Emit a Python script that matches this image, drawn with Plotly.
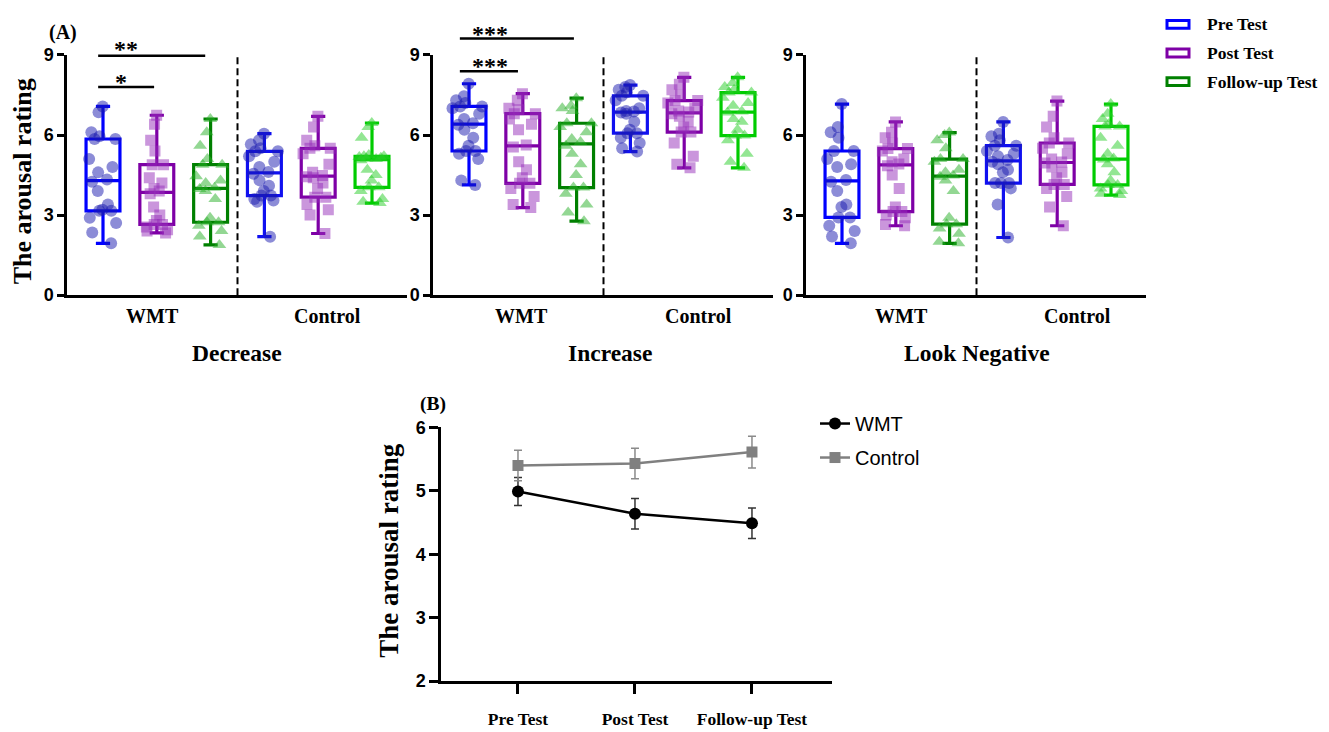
import plotly.graph_objects as go

# The page body has an 8px default margin; the figure is sized to fill the rest of the window.
PAGE_OFF = 8
W, H = 1329 - PAGE_OFF, 732 - PAGE_OFF

# ---------------- data ----------------
tests = ["Pre Test", "Post Test", "Follow-up Test"]
groups = ["WMT", "Control"]
conditions = ["Decrease", "Increase", "Look Negative"]

# Panel A: individual arousal ratings
dec_wmt_pre = [1.94, 2.35, 2.7, 2.9, 3.16, 3.16, 3.2, 3.4, 3.9, 4.25, 4.33, 4.6, 4.8, 5.1, 5.85, 5.85, 5.95, 6.1, 6.85, 7.07]
dec_wmt_post = [2.33, 2.4, 2.45, 2.55, 2.65, 2.65, 2.8, 3.0, 3.3, 3.8, 3.9, 4.0, 4.2, 4.4, 4.89, 4.89, 5.4, 5.8, 6.4, 6.74]
dec_wmt_fu = [1.88, 2.2, 2.4, 2.6, 2.73, 2.73, 2.9, 3.6, 3.9, 3.98, 4.02, 4.2, 4.3, 4.45, 4.89, 4.89, 5.1, 5.6, 6.1, 6.6]
dec_ctl_pre = [2.19, 3.5, 3.55, 3.6, 3.73, 3.73, 3.9, 4.1, 4.3, 4.55, 4.61, 4.8, 5.0, 5.2, 5.39, 5.39, 5.5, 5.65, 5.8, 6.05]
dec_ctl_post = [2.31, 3.0, 3.2, 3.4, 3.67, 3.67, 4.0, 4.2, 4.4, 4.44, 4.48, 4.6, 4.9, 5.3, 5.5, 5.5, 5.6, 5.8, 6.3, 6.7]
dec_ctl_fu = [3.45, 3.5, 3.6, 3.9, 4.04, 4.04, 4.3, 4.5, 4.7, 5.05, 5.1, 5.12, 5.15, 5.18, 5.2, 5.2, 5.25, 5.9, 6.3, 6.45]

inc_wmt_pre = [4.13, 4.3, 5.1, 5.3, 5.4, 5.4, 5.6, 5.9, 6.2, 6.38, 6.44, 6.6, 6.8, 7.0, 7.07, 7.07, 7.2, 7.3, 7.45, 7.92]
inc_wmt_post = [3.28, 3.4, 3.7, 4.0, 4.19, 4.19, 4.4, 4.7, 5.0, 5.55, 5.63, 6.2, 6.4, 6.6, 6.8, 6.8, 6.95, 7.0, 7.3, 7.55]
inc_wmt_fu = [2.77, 3.1, 3.4, 3.8, 4.03, 4.03, 4.5, 4.9, 5.3, 5.6, 5.74, 5.85, 6.1, 6.3, 6.44, 6.44, 6.9, 7.0, 7.1, 7.38]
inc_ctl_pre = [5.38, 5.5, 5.7, 5.9, 6.07, 6.07, 6.2, 6.5, 6.8, 6.84, 6.88, 6.9, 7.0, 7.3, 7.47, 7.47, 7.6, 7.7, 7.8, 7.87]
inc_ctl_post = [4.77, 4.9, 5.2, 5.7, 6.11, 6.11, 6.3, 6.5, 6.7, 6.8, 6.86, 6.9, 7.0, 7.2, 7.29, 7.29, 7.5, 7.7, 7.9, 8.16]
inc_ctl_fu = [4.77, 5.0, 5.3, 5.8, 5.98, 5.98, 6.2, 6.5, 6.6, 6.84, 6.88, 7.1, 7.2, 7.4, 7.59, 7.59, 7.7, 7.8, 7.95, 8.16]

neg_wmt_pre = [1.94, 2.2, 2.4, 2.6, 2.91, 2.91, 3.3, 3.4, 3.9, 4.25, 4.31, 4.8, 4.9, 5.1, 5.4, 5.4, 5.9, 6.1, 6.3, 7.16]
neg_wmt_post = [2.6, 2.65, 2.9, 3.0, 3.13, 3.13, 3.3, 4.0, 4.5, 4.85, 4.91, 5.0, 5.1, 5.4, 5.49, 5.49, 5.7, 5.9, 6.1, 6.49]
neg_wmt_fu = [1.94, 2.0, 2.3, 2.5, 2.66, 2.66, 2.9, 3.9, 4.3, 4.44, 4.48, 4.6, 4.7, 5.0, 5.1, 5.1, 5.5, 5.8, 6.0, 6.09]
neg_ctl_pre = [2.16, 3.4, 4.0, 4.2, 4.2, 4.2, 4.6, 4.7, 4.9, 5.0, 5.06, 5.2, 5.3, 5.4, 5.6, 5.6, 5.8, 5.95, 6.05, 6.49]
neg_ctl_post = [2.6, 3.3, 3.7, 4.0, 4.15, 4.15, 4.4, 4.6, 4.8, 4.95, 4.99, 5.1, 5.3, 5.5, 5.7, 5.7, 5.9, 6.3, 6.7, 7.27]
neg_ctl_fu = [3.75, 3.8, 3.9, 4.0, 4.13, 4.13, 4.3, 4.6, 4.9, 5.08, 5.12, 5.3, 5.6, 5.9, 6.32, 6.32, 6.4, 6.6, 6.8, 7.16]

# Panel B: mean +/- SEM
line_x = ["Pre Test", "Post Test", "Follow-up Test"]
wmt_mean = [4.99, 4.64, 4.49]
wmt_sem = [0.22, 0.24, 0.24]
ctl_mean = [5.40, 5.43, 5.61]
ctl_sem = [0.24, 0.24, 0.25]

# ---------------- styling ----------------
SERIF = "Liberation Serif"
SANS = "Liberation Sans"


def px(x):
    # window pixel -> paper fraction
    return (x - PAGE_OFF) / W


def py(y):
    return 1 - (y - PAGE_OFF) / H


panel_data = [
    [dec_wmt_pre, dec_wmt_post, dec_wmt_fu, dec_ctl_pre, dec_ctl_post, dec_ctl_fu],
    [inc_wmt_pre, inc_wmt_post, inc_wmt_fu, inc_ctl_pre, inc_ctl_post, inc_ctl_fu],
    [neg_wmt_pre, neg_wmt_post, neg_wmt_fu, neg_ctl_pre, neg_ctl_post, neg_ctl_fu],
]
box_line = ["#0000FF", "#7E00A6", "#008000", "#1010F0", "#7E00A6", "#00CC00"]
pt_color = ["rgba(25,25,175,0.5)", "rgba(150,45,185,0.5)", "rgba(40,175,40,0.5)",
            "rgba(25,25,175,0.5)", "rgba(150,45,185,0.5)", "rgba(40,205,40,0.5)"]
symbols = ["circle", "square", "triangle-up"] * 2
sizes = [12, 11, 12] * 2

A_X0 = [67, 433, 806]
A_W = 340
A_TOP, A_BOT = 46, 293
STEP = 53.8
XR = [-36 / STEP, (A_W - 36) / STEP]

fig = go.Figure()

for i, boxes in enumerate(panel_data):
    xa = "x" if i == 0 else f"x{i + 1}"
    ya = "y" if i == 0 else f"y{i + 1}"
    for k, vals in enumerate(boxes):
        fig.add_trace(go.Box(
            x=[k] * len(vals), y=vals, xaxis=xa, yaxis=ya,
            boxpoints="all", jitter=1.0, pointpos=0, width=0.63, whiskerwidth=0.42,
            line=dict(color=box_line[k], width=3.2), fillcolor="rgba(0,0,0,0)",
            marker=dict(color=pt_color[k], size=sizes[k], symbol=symbols[k]),
            showlegend=False, hoverinfo="y",
        ))

fig.add_trace(go.Scatter(
    x=line_x, y=wmt_mean, xaxis="x4", yaxis="y4", name="WMT", mode="lines+markers",
    line=dict(color="black", width=2.5), marker=dict(color="black", size=12, symbol="circle"),
    error_y=dict(type="data", array=wmt_sem, color="#333333", thickness=1.5, width=4),
    legendgroup="a",
))
fig.add_trace(go.Scatter(
    x=line_x, y=ctl_mean, xaxis="x4", yaxis="y4", name="Control", mode="lines+markers",
    line=dict(color="#808080", width=2.5), marker=dict(color="#808080", size=11, symbol="square"),
    error_y=dict(type="data", array=ctl_sem, color="#8a8a8a", thickness=1.5, width=4),
    legendgroup="b",
))

layout = dict(
    width=W, height=H, margin=dict(l=0, r=0, t=0, b=0),
    paper_bgcolor="white", plot_bgcolor="white",
    showlegend=True,
    legend=dict(x=px(815), y=py(405), xanchor="left", yanchor="top",
                font=dict(family=SANS, size=20, color="black"), tracegroupgap=5,
                bgcolor="rgba(0,0,0,0)", itemwidth=30),
)

axis_common = dict(showline=True, linecolor="black", linewidth=2.5, showgrid=False,
                   zeroline=False, mirror=False)
for i, x0 in enumerate(A_X0):
    sfx = "" if i == 0 else str(i + 1)
    layout[f"xaxis{sfx}"] = dict(axis_common, domain=[px(x0), px(x0 + A_W)], range=XR,
                                 ticks="", showticklabels=False, anchor=f"y{sfx}")
    layout[f"yaxis{sfx}"] = dict(axis_common, domain=[py(A_BOT), py(A_TOP)], range=[0, 9],
                                 tickvals=[0, 3, 6, 9], ticks="outside", ticklen=7, tickwidth=2.5,
                                 tickcolor="black",
                                 tickfont=dict(family=SANS, size=18, color="black", weight="bold"),
                                 anchor=f"x{sfx}")

layout["xaxis4"] = dict(axis_common, domain=[px(441), px(832)], type="category",
                        range=[-0.658, 2.684], ticks="outside", ticklen=10, tickwidth=2.5,
                        tickcolor="black", ticklabelstandoff=10,
                        tickfont=dict(family=SERIF, size=17.5, color="black", weight="bold"),
                        anchor="y4")
layout["yaxis4"] = dict(axis_common, domain=[py(690), py(429)], range=[2, 6], dtick=1,
                        ticks="outside", ticklen=9, tickwidth=2.5, tickcolor="black",
                        tickfont=dict(family=SANS, size=18, color="black", weight="bold"),
                        anchor="x4")
fig.update_layout(**layout)

ann = []
shapes = []


def text(x, y, s, size, family=SERIF, xref="paper", angle=0, xanchor="center", color="black"):
    ann.append(dict(x=x, y=y, xref=xref, yref="paper", text=s, showarrow=False,
                    xanchor=xanchor, yanchor="middle", textangle=angle,
                    font=dict(family=family, size=size, color=color, weight="bold")))


# group labels under each panel
grp_pos = [[0.92, 4.18], [0.98, 4.27], [1.1, 4.38]]
for i in range(3):
    xa = "x" if i == 0 else f"x{i + 1}"
    for g, gx in zip(groups, grp_pos[i]):
        text(gx, py(314), g, 20, xref=xa)
    # dashed separator
    shapes.append(dict(type="line", xref=xa, yref="y" if i == 0 else f"y{i + 1}",
                       x0=2.5, x1=2.5, y0=0, y1=9,
                       line=dict(color="black", width=2, dash="7px,4px")))

for c, cx in zip(conditions, [237, 610, 977]):
    text(px(cx), py(353), c, 23.5)

text(px(22), py(176), "The arousal rating", 26, angle=-90)
text(px(63), py(23), "(A)", 20)

# significance bars
sig = [
    ("x", -0.09, 1.9, 46.7, "**", 126, 40),
    ("x", -0.09, 0.95, 79, "*", 121, 74),
    ("x2", -0.17, 1.95, 29, "***", 490, 24),
    ("x2", -0.17, 0.91, 62.7, "***", 490, 57),
]
for xa, a, b, yb, s, sx, sy in sig:
    shapes.append(dict(type="line", xref=xa, yref="paper", x0=a, x1=b, y0=py(yb), y1=py(yb),
                       line=dict(color="black", width=2.5)))
    text(px(sx), py(sy), s, 24)

# legend for panel A
leg_y = [14.5, 44, 73.5]
leg_col = ["#0000FF", "#7E00A6", "#008000"]
for t, ly, lc in zip(tests, leg_y, leg_col):
    shapes.append(dict(type="rect", xref="paper", yref="paper", x0=px(1167), x1=px(1189),
                       y0=py(ly - 4), y1=py(ly + 4), line=dict(color=lc, width=3),
                       fillcolor="white"))
    text(px(1205), py(ly), t, 17.5, xanchor="left")

# panel B texts
text(px(433), py(405), "(B)", 19.5)
text(px(389), py(556), "The arousal rating", 27, angle=-90)

fig.update_layout(annotations=ann, shapes=shapes)
fig.write_html("out.html")
